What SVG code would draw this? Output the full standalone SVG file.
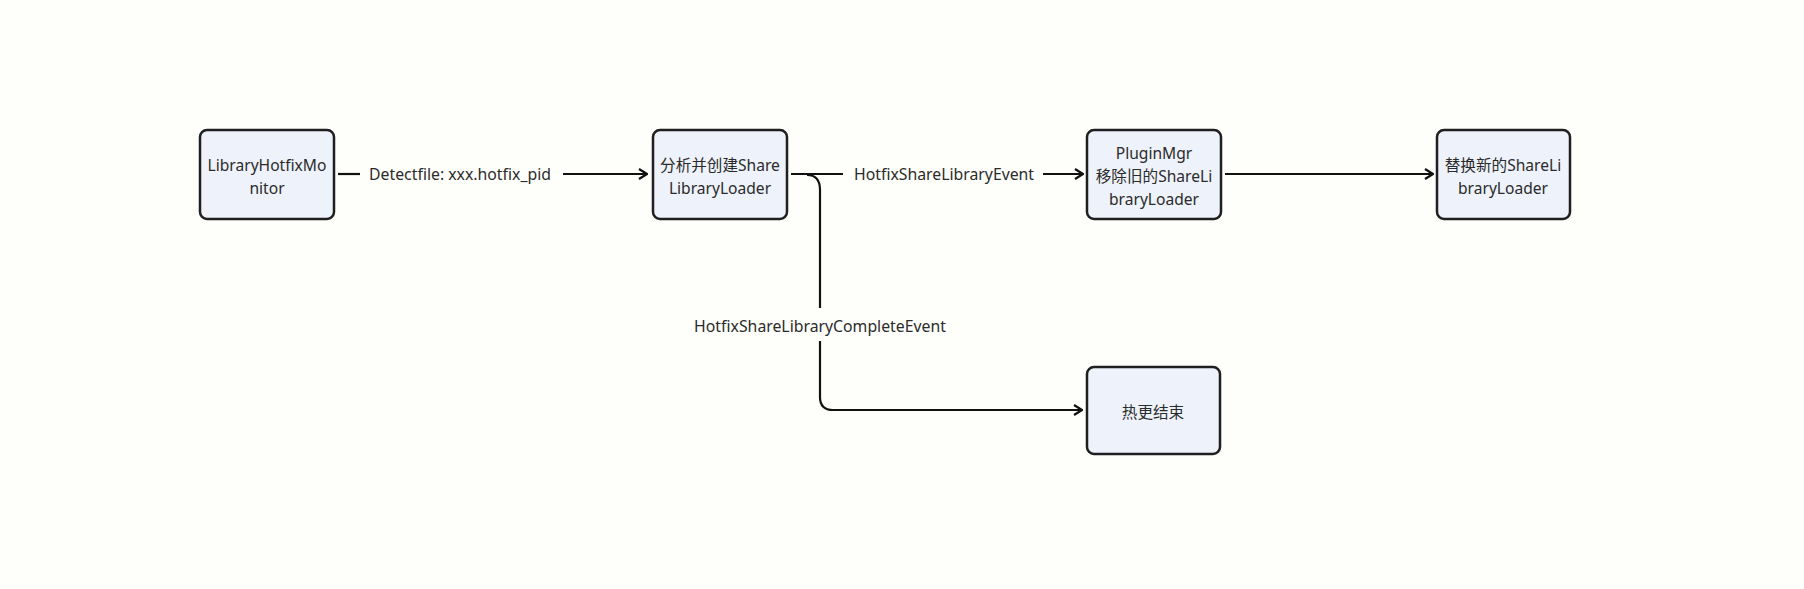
<svg xmlns="http://www.w3.org/2000/svg" width="1804" height="589" viewBox="0 0 1804 589">
<defs>
<style>
.node rect{fill:#eef2fa;stroke:#1f1f1f;stroke-width:2.5}
text{font-family:"Noto Sans","Noto Sans CJK SC",sans-serif;font-size:15.6px;fill:#2b2b2b;text-anchor:middle;dominant-baseline:central}
.edge{fill:none;stroke:#111;stroke-width:2.2}
.lbl{font-size:15.8px}
</style>
<marker id="arr" viewBox="0 0 12 12" refX="11" refY="6" markerWidth="12" markerHeight="12" markerUnits="userSpaceOnUse" orient="auto">
<path d="M3,1 L11,6 L3,11" fill="none" stroke="#111" stroke-width="2.2"/>
</marker>
</defs>
<rect width="1804" height="589" fill="#fefefa"/>
<g id="connectors">
<path class="edge" d="M338,174 H360"/>
<path class="edge" d="M563,174 H647" marker-end="url(#arr)"/>
<path class="edge" d="M791,174 H843"/>
<path class="edge" d="M1043,174 H1083" marker-end="url(#arr)"/>
<path class="edge" d="M807,175 Q820,175 820,190 V308"/>
<path class="edge" d="M820,341 V397 Q820,410 833,410 H1082" marker-end="url(#arr)"/>
<path class="edge" d="M1225,174 H1433" marker-end="url(#arr)"/>
<text class="lbl" x="460" y="174">Detectfile: xxx.hotfix_pid</text>
<text class="lbl" x="944" y="174">HotfixShareLibraryEvent</text>
<text class="lbl" x="820" y="326">HotfixShareLibraryCompleteEvent</text>
</g>
<g id="n1" class="node"><rect x="200" y="130" width="134" height="89" rx="7"/><text x="267" y="165">LibraryHotfixMo</text><text x="267" y="188">nitor</text></g>
<g id="n2" class="node"><rect x="653" y="130" width="134" height="89" rx="7"/><text x="720" y="165">分析并创建Share</text><text x="720" y="188">LibraryLoader</text></g>
<g id="n3" class="node"><rect x="1087" y="130" width="134" height="89" rx="7"/><text x="1154" y="153">PluginMgr</text><text x="1154" y="176">移除旧的ShareLi</text><text x="1154" y="199">braryLoader</text></g>
<g id="n4" class="node"><rect x="1437" y="130" width="133" height="89" rx="7"/><text x="1503" y="165">替换新的ShareLi</text><text x="1503" y="188">braryLoader</text></g>
<g id="n5" class="node"><rect x="1087" y="367" width="133" height="87" rx="7"/><text x="1153" y="412">热更结束</text></g>
</svg>
